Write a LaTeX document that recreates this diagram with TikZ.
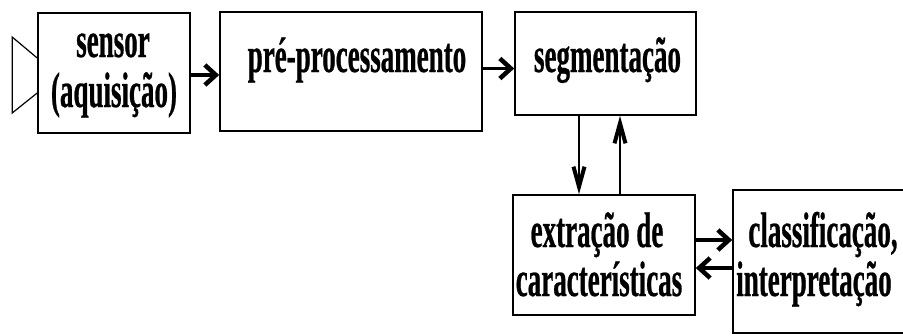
\documentclass[tikz,border=0pt]{standalone}
\usepackage{fontspec}
\newfontfamily\lf[FakeStretch=0.54,FakeBold=0.5]{Liberation Serif}
\usetikzlibrary{arrows.meta}
\begin{document}
\begin{tikzpicture}[x=1pt,y=-1pt,
  box/.style={draw,line width=1.6pt,inner sep=0pt},
  lbl/.style={font=\lf\bfseries\fontsize{50}{52}\selectfont,inner sep=0pt,anchor=base},
  arr/.style={line width=3.6pt,-{Straight Barb[length=11pt,width=20pt,line width=4.5pt]}},
  varr/.style={line width=2pt,-{Straight Barb[length=20pt,width=11pt,line width=4pt]}}]
\useasboundingbox (0,0) rectangle (903,335);
% boxes
\node[box,minimum width=152pt,minimum height=120pt] (sensor) at (114,73) {};
\node[box,minimum width=262pt,minimum height=119pt] (pre) at (351,71.5) {};
\node[box,minimum width=181pt,minimum height=103pt] (seg) at (605.5,63.5) {};
\node[box,minimum width=182pt,minimum height=120pt] (extr) at (604,255) {};
\node[box,minimum width=177pt,minimum height=143pt] (class) at (821.5,261.5) {};
% sensor symbol
\draw[line width=1.2pt] ([yshift=15pt]sensor.west) -- ([xshift=-25pt,yshift=36pt]sensor.west)
  -- ([xshift=-25pt,yshift=-40pt]sensor.west) -- ([yshift=-20pt]sensor.west);
% texts
\node[lbl] (t1) at (113,57) {sensor};
\node[lbl] (t2) at (114,107) {(aquisição)};
\node[lbl] (t3) at (357,72) {pré-processamento};
\node[lbl] (t4) at (607.5,72) {segmentação};
\node[lbl] (t5) at (597,247) {extração de};
\node[lbl] (t6) at (599,296) {características};
\node[lbl] (t7) at (823,247) {classificação,};
\node[lbl] (t8) at (814,296) {interpretação};
% connectors
\draw[arr] ([yshift=-2pt]sensor.east) -- ([yshift=-2pt]sensor.east -| pre.west);
\draw[arr] ([yshift=3pt]pre.east) -- ([yshift=3pt]pre.east -| seg.west);
\draw[varr] ([xshift=-26.5pt]seg.south) -- ([xshift=-26.5pt]seg.south |- extr.north);
\draw[varr] ([xshift=14.5pt]seg.south |- extr.north) -- ([xshift=14.5pt]seg.south);
\draw[arr] ([yshift=15pt]extr.east) -- ([yshift=15pt]extr.east -| class.west);
\draw[arr] ([yshift=-13pt]extr.east -| class.west) -- ([yshift=-13pt]extr.east);
\end{tikzpicture}
\end{document}
